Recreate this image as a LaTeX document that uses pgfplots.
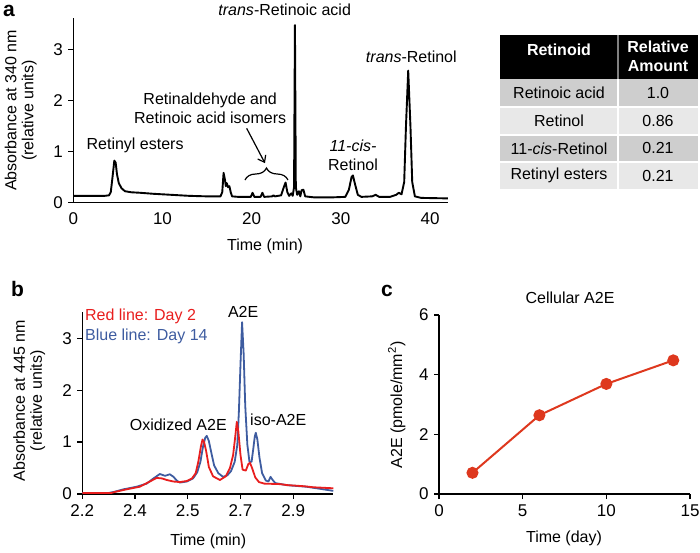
\documentclass[border=0pt]{standalone}
\usepackage{fontspec}
\setmainfont{Liberation Sans}
\usepackage{pgfplots}
\pgfplotsset{compat=1.18}
\usetikzlibrary{arrows.meta,decorations.pathreplacing}

\definecolor{redline}{RGB}{232,30,30}
\definecolor{blueline}{RGB}{62,92,160}
\definecolor{cline}{RGB}{222,56,30}
\definecolor{rowdark}{RGB}{206,206,206}
\definecolor{rowlight}{RGB}{232,232,232}

\pgfplotsset{
  myaxis/.style={
    scale only axis, anchor=south west,
    axis lines=left, axis line style={-, line width=1.2pt},
    enlargelimits=false, clip=false,
    tick align=outside, major tick length=5pt,
    tick style={line width=1.2pt, black},
    minor tick num=0,
    /pgf/number format/assume math mode=true,
    tick label style={font=\fontsize{17}{19}\selectfont},
    label style={font=\fontsize{16}{17}\selectfont},
    xlabel style={anchor=center},
    ylabel style={anchor=center, align=center},
  }
}

\begin{document}
\fontsize{16}{19}\selectfont
\begin{tikzpicture}
\path[use as bounding box] (0pt,0pt) rectangle (700pt,553pt);

% panel letters
\node[font=\fontsize{21}{24}\selectfont\bfseries, anchor=base west, inner sep=0pt] at (3pt,536pt) {a};
\node[font=\fontsize{21}{24}\selectfont\bfseries, anchor=base west, inner sep=0pt] at (11pt,256.5pt) {b};
\node[font=\fontsize{21}{24}\selectfont\bfseries, anchor=base west, inner sep=0pt] at (381pt,256.5pt) {c};

% ---------------- panel a ----------------
\begin{axis}[myaxis,
  at={(73.3pt,350.5pt)}, width=374.6pt, height=184pt,
  xmin=0, xmax=42, ymin=0, ymax=3.6,
  xtick={0,10,20,30,40}, ytick={0,1,2,3},
  xtick style={draw=none},
  xlabel={Time (min)},
  xlabel style={at={(axis description cs:0.512,-0.24)}},
  ylabel={Absorbance at 340 nm\\(relative units)},
  ylabel style={at={(axis description cs:-0.14,0.5)}},
]
\addplot[black, line width=1.9pt, line join=round] coordinates {
(0,0.13)(2,0.13)(3.5,0.13)(4.0,0.14)(4.2,0.2)(4.4,0.5)(4.6,0.82)(4.75,0.78)(4.9,0.55)(5.1,0.38)(5.4,0.28)(5.8,0.22)(6.5,0.2)(7.5,0.19)(9,0.17)(11,0.15)(13,0.13)(15,0.12)(16.5,0.12)(16.7,0.2)(16.85,0.58)(17.0,0.45)(17.1,0.32)(17.2,0.38)(17.35,0.3)(17.5,0.32)(17.65,0.2)(17.8,0.12)(18.5,0.11)(19.9,0.11)(20.1,0.19)(20.3,0.11)(21.0,0.11)(21.2,0.19)(21.4,0.11)(22.3,0.12)(22.45,0.14)(22.6,0.12)(23.3,0.14)(23.6,0.3)(23.8,0.39)(24.0,0.2)(24.2,0.13)(24.45,0.18)(24.6,0.13)(24.75,0.3)(24.85,3.47)(24.95,0.3)(25.1,0.15)(25.3,0.22)(25.45,0.12)(25.6,0.24)(25.8,0.25)(26.0,0.12)(27,0.1)(29,0.1)(30.5,0.11)(30.9,0.25)(31.2,0.5)(31.35,0.53)(31.6,0.35)(31.9,0.15)(32.3,0.11)(33.5,0.12)(33.9,0.15)(34.3,0.11)(35.5,0.11)(36.2,0.15)(36.5,0.19)(36.8,0.16)(37.1,0.4)(37.3,1.5)(37.55,2.58)(37.8,1.5)(38.0,0.4)(38.3,0.12)(39,0.09)(42,0.08)
};
\node at (axis cs:23.7,3.77) {\textit{trans}-Retinoic acid};
\node at (axis cs:37.9,2.85) {\textit{trans}-Retinol};
\node[align=center] at (axis cs:15.35,1.85) {Retinaldehyde and\\Retinoic acid isomers};
\draw[line width=1.2pt, -{Straight Barb[length=6pt,width=9pt]}] (axis cs:19.44,1.45) -- (axis cs:21.49,0.77);
\draw[line width=1.2pt, decorate, decoration={brace, amplitude=12pt}] (axis cs:19.25,0.44) -- (axis cs:24.07,0.44);
\node at (axis cs:6.93,1.11) {Retinyl esters};
\node[align=center] at (axis cs:31.36,0.92) {\textit{11-cis-}\\Retinol};
\end{axis}

% ---------------- table ----------------
\fill[black] (500pt,474pt) rectangle (698pt,518pt);
\fill[rowdark] (500pt,446pt) rectangle (698pt,474pt);
\fill[rowlight] (500pt,418pt) rectangle (698pt,446pt);
\fill[rowdark] (500pt,391pt) rectangle (698pt,418pt);
\fill[rowlight] (500pt,364pt) rectangle (698pt,391pt);
\draw[white, line width=1.5pt] (500pt,446pt) -- (698pt,446pt);
\draw[white, line width=1.5pt] (500pt,418pt) -- (698pt,418pt);
\draw[white, line width=1.5pt] (500pt,391pt) -- (698pt,391pt);
\draw[white, line width=1.5pt] (618pt,364pt) -- (618pt,474pt);
\draw[gray, line width=1.2pt] (618pt,474pt) -- (618pt,518pt);
\node[white, font=\fontsize{16}{20}\selectfont\bfseries] at (559pt,503pt) {Retinoid};
\node[white, font=\fontsize{16}{19}\selectfont\bfseries, align=center] at (658pt,497pt) {Relative\\Amount};
\node at (559pt,460pt) {Retinoic acid};
\node at (658pt,460pt) {1.0};
\node at (559pt,432pt) {Retinol};
\node at (658pt,432pt) {0.86};
\node at (559pt,404.5pt) {11-\textit{cis}-Retinol};
\node at (658pt,404.5pt) {0.21};
\node at (559pt,377.5pt) {Retinyl esters};
\node at (658pt,377.5pt) {0.21};

% ---------------- panel b ----------------
\begin{axis}[myaxis,
  at={(82.3pt,59pt)}, width=251pt, height=181.7pt,
  xmin=2.2, xmax=2.676, ymin=0, ymax=3.5,
  xtick={2.2,2.3,2.4,2.5,2.6}, xticklabels={2.2,2.4,2.5,2.7,2.9},
  ytick={0,1,2,3},
  xlabel={Time (min)},
  xlabel style={at={(axis description cs:0.502,-0.2625)}},
  ylabel={Absorbance at 445 nm\\(relative units)},
  ylabel style={at={(axis description cs:-0.2116,0.513)}},
]
\addplot[blueline, line width=1.8pt, line join=round] coordinates {
(2.200,0.02)(2.250,0.02)(2.260,0.04)(2.278,0.09)(2.303,0.14)(2.322,0.20)(2.335,0.30)(2.347,0.385)(2.357,0.35)(2.366,0.38)(2.373,0.33)(2.379,0.26)(2.385,0.22)(2.398,0.24)(2.410,0.30)(2.418,0.42)(2.424,0.62)(2.429,0.92)(2.433,1.08)(2.436,1.12)(2.440,1.02)(2.445,0.78)(2.450,0.55)(2.458,0.40)(2.467,0.33)(2.475,0.36)(2.482,0.44)(2.489,0.62)(2.494,0.95)(2.497,1.60)(2.500,2.50)(2.503,3.31)(2.506,2.70)(2.509,1.70)(2.513,0.95)(2.517,0.62)(2.521,0.62)(2.524,0.85)(2.527,1.10)(2.529,1.18)(2.532,1.05)(2.536,0.70)(2.541,0.40)(2.548,0.26)(2.553,0.24)(2.557,0.33)(2.561,0.27)(2.566,0.21)(2.588,0.17)(2.625,0.14)(2.651,0.10)(2.676,0.06)
};
\addplot[redline, line width=1.8pt, line join=round] coordinates {
(2.200,0.02)(2.255,0.02)(2.262,0.04)(2.284,0.09)(2.309,0.14)(2.328,0.24)(2.341,0.31)(2.351,0.30)(2.360,0.27)(2.373,0.24)(2.385,0.23)(2.398,0.25)(2.408,0.30)(2.415,0.40)(2.420,0.62)(2.425,0.92)(2.428,1.05)(2.431,1.00)(2.435,0.82)(2.440,0.52)(2.448,0.34)(2.461,0.27)(2.472,0.34)(2.480,0.50)(2.486,0.75)(2.490,1.10)(2.493,1.39)(2.496,1.20)(2.500,0.75)(2.504,0.47)(2.510,0.45)(2.515,0.58)(2.518,0.60)(2.522,0.50)(2.528,0.32)(2.535,0.23)(2.545,0.20)(2.575,0.19)(2.590,0.17)(2.606,0.16)(2.620,0.15)(2.638,0.13)(2.676,0.11)
};
\node[redline, anchor=west, inner sep=0pt] at (axis cs:2.205,3.42) {Red line: Day 2};
\node[blueline, anchor=west, inner sep=0pt] at (axis cs:2.205,3.03) {Blue line: Day 14};
\node at (axis cs:2.505,3.51) {A2E};
\node at (axis cs:2.382,1.33) {Oxidized A2E};
\node at (axis cs:2.5716,1.43) {iso-A2E};
\end{axis}

% ---------------- panel c ----------------
\begin{axis}[myaxis,
  at={(439pt,59pt)}, width=251pt, height=179pt,
  xmin=0, xmax=15, ymin=0, ymax=6,
  xtick={0,5,10,15}, ytick={0,2,4,6},
  xlabel={Time (day)},
  xlabel style={at={(axis description cs:0.498,-0.2475)}},
  ylabel={A2E (pmole/mm\textsuperscript{2})},
  ylabel style={at={(axis description cs:-0.1685,0.497)}},
  title={Cellular A2E},
  title style={at={(axis description cs:0.522,1.065)}, anchor=center, font=\fontsize{16}{19}\selectfont},
]
\addplot[cline, line width=2pt, mark=*, mark size=5pt, mark options={fill=cline, draw=cline}] coordinates {
(2,0.71)(6,2.64)(10,3.69)(14,4.48)
};
\end{axis}
\end{tikzpicture}
\end{document}
